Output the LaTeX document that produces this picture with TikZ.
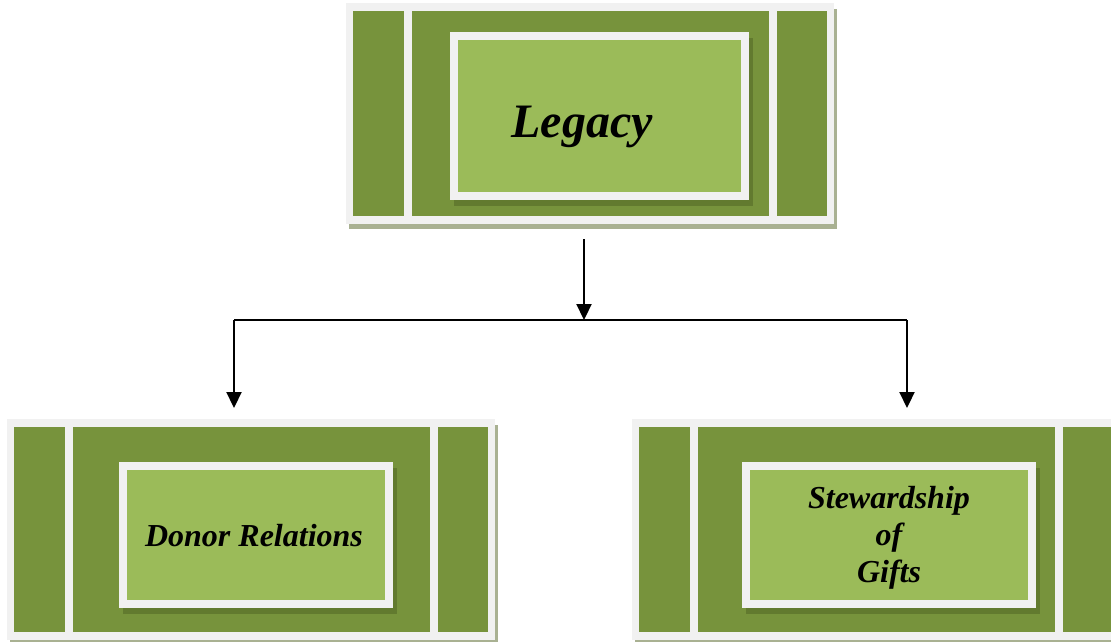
\documentclass[tikz,border=0pt]{standalone}
\usepackage{fontspec}
\setmainfont{Liberation Serif}
\usetikzlibrary{arrows.meta,calc}
\definecolor{dkgreen}{HTML}{77933C}
\definecolor{ltgreen}{HTML}{9BBB59}
\definecolor{framegray}{HTML}{F1F1F1}
\definecolor{outshadow}{HTML}{A9B192}
\definecolor{inshadow}{HTML}{627A2F}
\tikzset{
  blk/.style={anchor=north west, inner sep=0pt, outer sep=0pt, draw=none},
  frame/.style={blk, fill=framegray},
  oshadow/.style={blk, fill=outshadow},
  ishadow/.style={blk, fill=inshadow},
  stripe/.style={blk, fill=dkgreen},
  innergreen/.style={blk, fill=ltgreen},
  label/.style={font=\bfseries\itshape, text=black, inner sep=0pt},
  arrow/.style={line width=2.2pt, -{Triangle[width=15pt,length=16pt]}},
  busline/.style={line width=2.2pt}
}
\newcommand\panel[3]{%
  \node[oshadow, minimum width=488pt, minimum height=220pt] (#1-shadow) at (#2+3,#3+6) {};
  \node[frame, minimum width=488pt, minimum height=221pt] (#1) at (#2,#3) {};
  \node[stripe, minimum width=51pt, minimum height=205pt] (#1-l) at (#2+7,#3+8) {};
  \node[stripe, minimum width=357pt, minimum height=205pt] (#1-m) at (#2+66,#3+8) {};
  \node[stripe, minimum width=50pt, minimum height=205pt] (#1-r) at (#2+431,#3+8) {};
}
\newcommand\innerpanel[5]{%
  \node[ishadow, minimum width=#4pt, minimum height=#5pt] (#1-ishadow) at (#2+4,#3+6) {};
  \node[frame, minimum width=#4pt, minimum height=#5pt] (#1-iframe) at (#2,#3) {};
  \node[innergreen, minimum width=#4pt-16pt, minimum height=#5pt-16pt] (#1-green) at (#2+8,#3+8) {};
}
\begin{document}
\begin{tikzpicture}[x=1pt,y=-1pt]
\useasboundingbox (0,0) rectangle (1111,642);
\fill[white] (0,0) rectangle (1111,642);
% top panel
\panel{top}{346}{3}
\innerpanel{top}{450}{32}{299}{168}
\node[label, font=\fontsize{48}{56}\selectfont\bfseries\itshape, anchor=base] (legacyText) at (582,137) {Legacy};
% left panel
\panel{donor}{7}{419}
\innerpanel{donor}{119}{462}{274}{146}
\node[label, font=\fontsize{32}{37}\selectfont\bfseries\itshape, anchor=base] (donorText) at (254,546) {Donor Relations};
% right panel
\panel{stew}{632}{419}
\innerpanel{stew}{742}{462}{294}{146}
\node[label, font=\fontsize{32}{37}\selectfont\bfseries\itshape, align=center, anchor=center] (stewText) at (889,538) {Stewardship\\of\\Gifts};
% connectors
\coordinate (bus) at (584,320);
\coordinate (lbus) at (234,320);
\coordinate (rbus) at (907,320);
\draw[arrow, shorten <=10pt] (bus |- top-shadow.south) -- (bus);
\draw[busline] (lbus) -- (rbus);
\draw[arrow, shorten >=11pt] (lbus) -- (lbus |- donor.north);
\draw[arrow, shorten >=11pt] (rbus) -- (rbus |- stew.north);
\end{tikzpicture}
\end{document}
